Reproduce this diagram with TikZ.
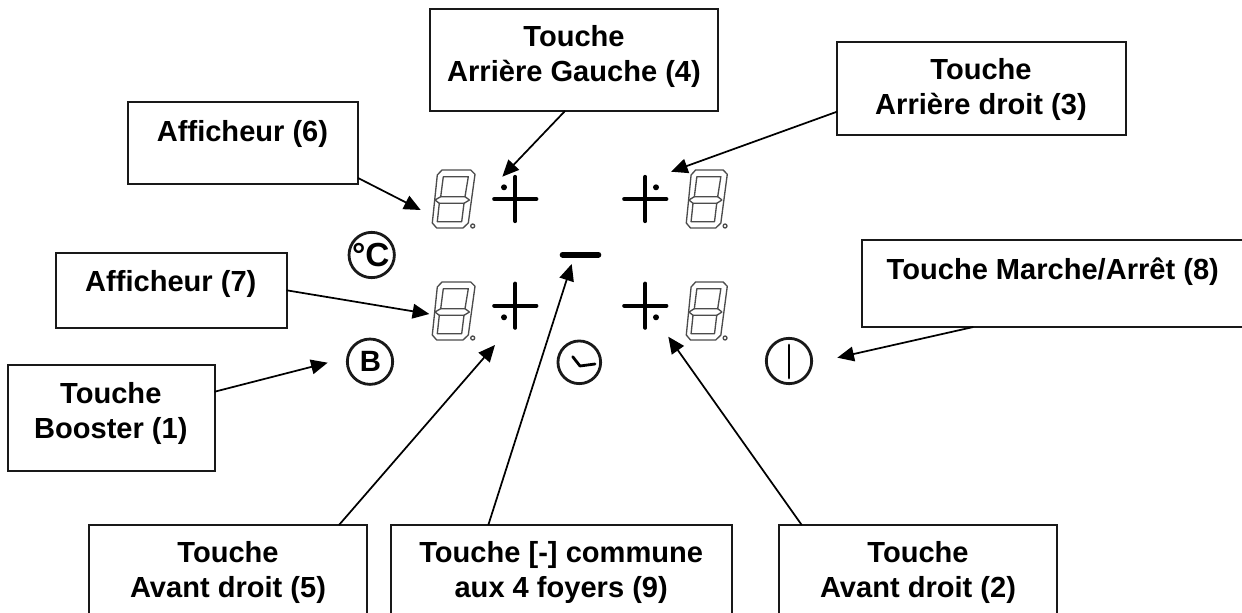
\documentclass[tikz,border=0pt]{standalone}
\usepackage{fontspec}
\setmainfont{Liberation Sans}
\usetikzlibrary{arrows.meta}
\tikzset{
  x=0.75pt,y=-0.75pt,
  box/.style={draw=black!90,line width=1.5pt,fill=white,rectangle,inner sep=0pt,outer sep=0pt,anchor=north west},
  lbl/.style={font=\fontsize{21.8}{26.25}\selectfont\bfseries,align=center,inner sep=0pt,anchor=base},
  conn/.style={draw=black,line width=1.3pt,-{Triangle[length=12.5pt,width=11pt]}},
  glyph/.style={draw=black,line width=3.2pt,line cap=round},
  ring/.style={circle,draw=black!90,line width=2.1pt,inner sep=0pt,minimum size=34pt},
  handline/.style={draw=black,line width=2.1pt,line cap=round,line join=round},
  seg/.style={draw=black!70,line width=1pt,line join=round},
  sevenseg/.pic={
    \draw[seg] (10,0) -- (38.7,0) -- (43,4.3) -- (36.3,53) -- (31,58) -- (4.7,58) -- (0.3,53) -- (5.3,5) -- cycle;
    \draw[seg] (11.3,6.7) -- (36.3,6.7) -- (33,26.7) -- (8.7,26.7) -- cycle;
    \draw[seg] (7.3,33.3) -- (32,33.3) -- (29.7,51.7) -- (5.3,51.7) -- cycle;
    \draw[seg] (3,30) -- (8.7,26.7) (3,30) -- (7.3,33.3) (37.5,30) -- (33,26.7) (37.5,30) -- (32,33.3);
    \draw[seg] (40.7,56) circle[radius=2];
  },
  plusv/.pic={
    \draw[glyph] (-21,0) -- (21,0);
    \draw[glyph] (0,-22) -- (0,22);
  }
}
\begin{document}
\begin{tikzpicture}
\useasboundingbox (0,0) rectangle (1242,613);
\fill[white] (0,0) rectangle (1242,613);

% panel symbols
\pic at (432,170) {sevenseg};
\pic at (432,282) {sevenseg};
\pic[xscale=0.96] at (686,170) {sevenseg};
\pic[xscale=0.96] at (686,282) {sevenseg};

\pic at (515.3,199) {plusv};
\pic at (515.3,305.7) {plusv};
\pic at (645.3,199) {plusv};
\pic at (645.3,305.7) {plusv};
\fill (504,187.3) circle[radius=3];
\fill (504,317.3) circle[radius=3];
\fill (656,187.3) circle[radius=3];
\fill (656,317.3) circle[radius=3];
\draw[glyph,line width=4.2pt] (562.5,254.7) -- (598.5,254.7);

\node[ring] (celsius) at (371.7,255) {};
\node[font=\fontsize{25}{25}\selectfont\bfseries,inner sep=0pt] (celsiustxt) at (370.8,255) {°C};
\node[ring] (booster) at (370,361.7) {};
\node[font=\fontsize{22}{22}\selectfont\bfseries,inner sep=0pt] (boostertxt) at (370.5,361.7) {B};
\node[ring,minimum size=32pt] (clock) at (579.3,362.3) {};
\draw[handline] (572.7,356.7) -- (580,366) -- (595,364);
\node[ring] (power) at (789,361) {};
\draw[handline] (789,345) -- (789,378);

% boxes
\node[box,minimum width=216.4pt,minimum height=76.1pt] (b4) at (429.5,9.5) {};
\node[box,minimum width=216.75pt,minimum height=69.4pt] (b3) at (837,42.5) {};
\node[box,minimum width=172.9pt,minimum height=61.1pt] (b6) at (127.5,102.5) {};
\node[box,minimum width=173.25pt,minimum height=55.9pt] (b7) at (55.5,253) {};
\node[box,minimum width=154.9pt,minimum height=79.5pt] (b1) at (8,365) {};
\node[box,minimum width=208.5pt,minimum height=67.5pt] (b5) at (89,525) {};
\node[box,minimum width=256.1pt,minimum height=67.5pt] (b9) at (390.5,525) {};
\node[box,minimum width=208.5pt,minimum height=67.5pt] (b2) at (779,525) {};
\node[box,minimum width=286.9pt,minimum height=65.25pt] (b8) at (861.5,240) {};

% labels (anchored on the baseline of their last line)
\node[lbl] (t4) at (574,81.7) {Touche\\Arrière Gauche (4)};
\node[lbl] (t3) at (981,115) {Touche\\Arrière droit (3)};
\node[lbl] (t6) at (242.5,141.7) {Afficheur (6)};
\node[lbl] (t7) at (170.8,291.7) {Afficheur (7)};
\node[lbl] (t1) at (110.8,438) {Touche\\Booster (1)};
\node[lbl] (t5) at (228,597) {Touche\\Avant droit (5)};
\node[lbl] (t9) at (561.2,597) {Touche [-] commune\\aux 4 foyers (9)};
\node[lbl] (t2) at (918,597) {Touche\\Avant droit (2)};
\node[lbl] (t8) at (1052.8,279.3) {Touche Marche/Arrêt (8)};

% arrow tips
\coordinate (p4) at (502.3,176.7);
\coordinate (p3) at (671,171.7);
\coordinate (p6) at (420.7,210);
\coordinate (p7) at (429.3,314);
\coordinate (p1) at (327.7,362.7);
\coordinate (p5) at (495,345);
\coordinate (p9) at (571.7,264);
\coordinate (p2) at (668.3,336.7);
\coordinate (p8) at (837.3,357.7);

% connectors
\draw[conn] ([xshift=-6.56pt]b4.south) -- (p4);
\draw[conn] ([yshift=-17.2pt]b3.west) -- (p3);
\draw[conn] ([yshift=-26.06pt]b6.east) -- (p6);
\draw[conn] (b7.east) -- (p7);
\draw[conn] ([yshift=19.7pt]b1.east) -- (p1);
\draw[conn] ([xshift=83.25pt]b5.north) -- (p5);
\draw[conn] ([xshift=-54.7pt]b9.north) -- (p9);
\draw[conn] ([xshift=-87.2pt]b2.north) -- (p2);
\draw[conn] ([xshift=-59.6pt]b8.south) -- (p8);
\end{tikzpicture}
\end{document}
